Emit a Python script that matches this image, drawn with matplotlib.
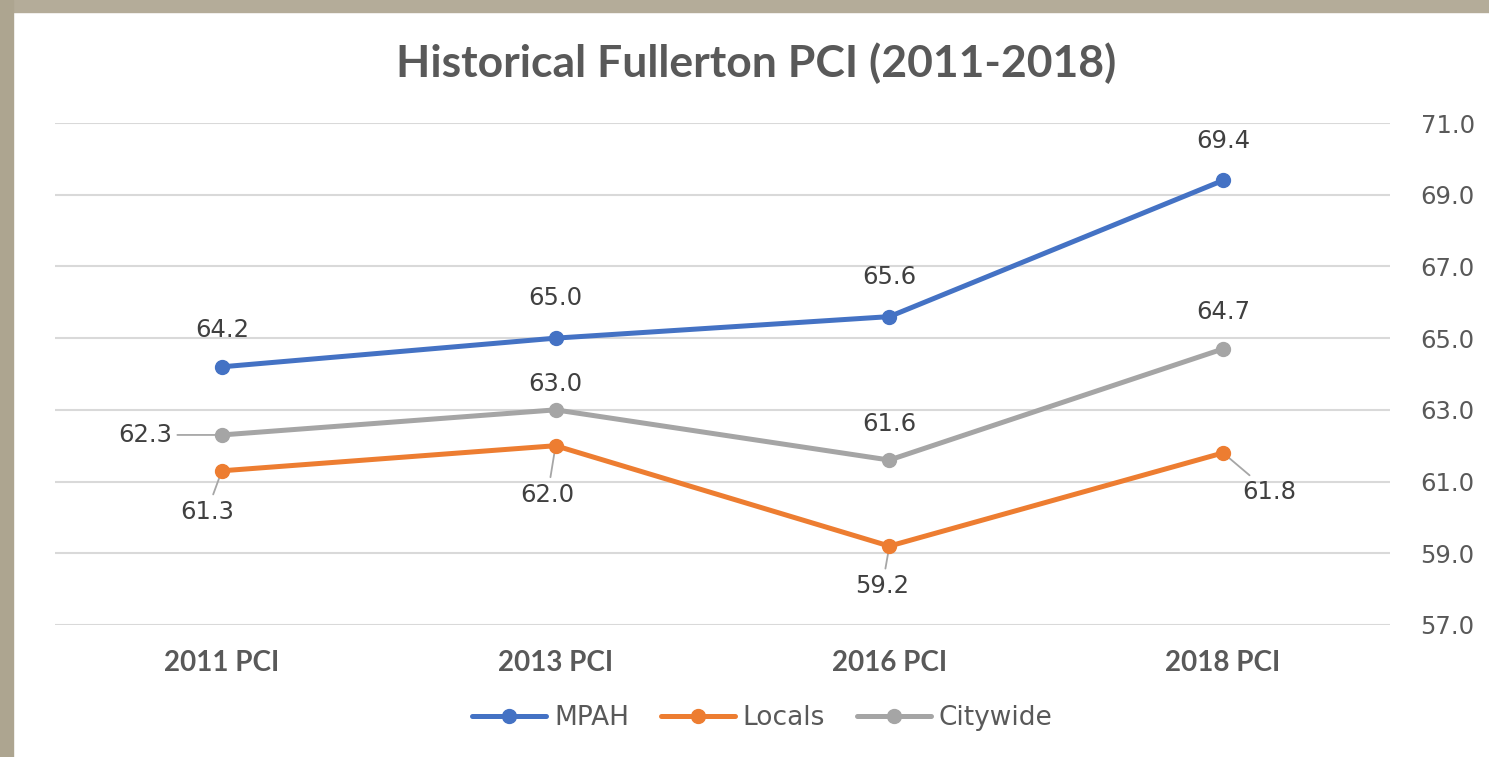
import matplotlib.pyplot as plt
from matplotlib.patches import Rectangle

# Data
categories = ['2011 PCI', '2013 PCI', '2016 PCI', '2018 PCI']
mpah = [64.2, 65.0, 65.6, 69.4]
locals_ = [61.3, 62.0, 59.2, 61.8]
citywide = [62.3, 63.0, 61.6, 64.7]
y_ticks = [57.0, 59.0, 61.0, 63.0, 65.0, 67.0, 69.0, 71.0]

# label offsets in pixels (dx, dy) from each point
mpah_off = [(0, 37), (0, 40), (0, 40), (0, 39)]
locals_off = [(-15, -41), (-8, -49), (-7, -40), (46, -39)]
city_off = [(-77, 0), (0, 26), (0, 36), (0, 37)]

text_col = '#595959'

fig = plt.figure(figsize=(14.89, 7.57), dpi=100)
ax = fig.add_axes([0.0369, 0.1744, 0.8966, 0.6631])

x = range(len(categories))
series = [('MPAH', mpah, '#4472C4', mpah_off),
          ('Locals', locals_, '#ED7D31', locals_off),
          ('Citywide', citywide, '#A5A5A5', city_off)]

for name, vals, col, offs in series:
    ax.plot(x, vals, color=col, lw=3.6, marker='o', ms=10, label=name,
            solid_capstyle='round', zorder=3)
    for i, v in enumerate(vals):
        dx, dy = offs[i]
        leader = abs(dx) > 20 or dy < -30
        ax.annotate(f'{v:.1f}', (i, v), xytext=(dx, dy), textcoords='offset pixels',
                    ha='center', va='center', fontsize=17.5, color='#404040',
                    arrowprops=dict(arrowstyle='-', color='#A6A6A6', lw=1.3,
                                    shrinkA=2, shrinkB=1) if leader else None,
                    zorder=2)

ax.set_xlim(-0.5, 3.5)
ax.set_ylim(57, 71)
ax.set_yticks(y_ticks)
ax.set_yticklabels([f'{t:.1f}' for t in y_ticks])
ax.yaxis.tick_right()
ax.tick_params(axis='y', length=0, pad=22, labelsize=17.5, labelcolor=text_col)
ax.set_xticks(list(x))
ax.set_xticklabels(categories, fontfamily='Lato', fontweight='bold', fontsize=20, color=text_col)
ax.tick_params(axis='x', length=0, pad=18)
ax.grid(axis='y', color='#D9D9D9', lw=1.5, zorder=0)
for s in ax.spines.values():
    s.set_visible(False)

fig.text(0.508, 0.917, 'Historical Fullerton PCI (2011-2018)', ha='center', va='center',
         fontfamily='Lato', fontweight='bold', fontsize=32, color=text_col)

leg = fig.legend(loc='center', bbox_to_anchor=(0.512, 0.051), ncol=3, frameon=False,
                 fontsize=19, handlelength=2.8, handletextpad=0.3, columnspacing=1.2)
for t in leg.get_texts():
    t.set_color(text_col)

# picture frame on top and left edges
fig.patches.append(Rectangle((0, 1 - 12 / 757), 1, 12 / 757, transform=fig.transFigure,
                             color='#B4AC99', zorder=0))
fig.patches.append(Rectangle((0, 0), 13 / 1489, 1, transform=fig.transFigure,
                             color='#ADA590', zorder=0))

fig.savefig('out.png', dpi=100)
